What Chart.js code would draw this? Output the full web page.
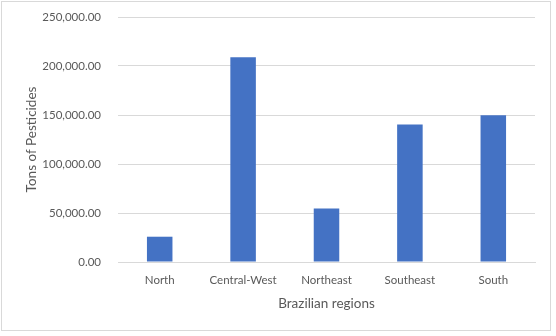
<!DOCTYPE html>
<html>
<head>
<meta charset="utf-8">
<script src="https://cdn.jsdelivr.net/npm/chart.js@4/dist/chart.umd.min.js"></script>
<style>
  html, body { margin: 0; padding: 0; background: #ffffff; }
  canvas { display: block; }
</style>
</head>
<body>
<canvas id="grafica" width="556" height="336"></canvas>
<script>
// datos
const regiones = ["North", "Central-West", "Northeast", "Southeast", "South"];
const toneladas = [25800, 208900, 54600, 140200, 149800];
const ticksY = [0, 50000, 100000, 150000, 200000, 250000];

const textoGris = "#595959";
const lineaGris = "#d9d9d9";
const fuente = { family: "Lato, 'Open Sans', sans-serif", size: 11.5 };
const fuenteTitulo = { family: "Lato, 'Open Sans', sans-serif", size: 13.5 };

// marco exterior del grafico
const marco = {
    id: "marco",
    beforeDraw(chart) {
        const ctx = chart.ctx;
        ctx.save();
        ctx.fillStyle = "#ffffff";
        ctx.fillRect(0, 0, chart.width, chart.height);
        ctx.strokeStyle = lineaGris;
        ctx.lineWidth = 1;
        ctx.strokeRect(1.5, 1.5, 549, 329);
        ctx.restore();
    }
};

new Chart(document.getElementById("grafica").getContext("2d"), {
    type: "bar",
    data: {
        labels: regiones,
        datasets: [{
            label: "Tons of Pesticides",
            data: toneladas,
            backgroundColor: "#4472c4",
            borderWidth: 0,
            barPercentage: 1,
            categoryPercentage: 0.306
        }]
    },
    options: {
        responsive: false,
        animation: false,
        devicePixelRatio: 1,
        layout: { padding: { top: 17, right: 21, bottom: 0, left: 0 } },
        plugins: {
            legend: { display: false },
            tooltip: { enabled: false }
        },
        scales: {
            x: {
                grid: { display: false, drawTicks: false },
                border: { display: true, color: lineaGris, width: 1 },
                ticks: { color: textoGris, font: fuente, padding: 11 },
                title: {
                    display: true,
                    text: "Brazilian regions",
                    color: textoGris,
                    font: fuenteTitulo,
                    padding: { top: 0, bottom: 24 }
                },
                afterFit(scale) { scale.height = 74; }
            },
            y: {
                min: 0,
                max: 250000,
                afterBuildTicks(scale) {
                    scale.ticks = ticksY.map(v => ({ value: v }));
                },
                grid: { color: lineaGris, drawTicks: false },
                border: { display: false },
                ticks: {
                    color: textoGris,
                    font: fuente,
                    padding: 17,
                    callback: v => v.toLocaleString("en-US", { minimumFractionDigits: 2, maximumFractionDigits: 2 })
                },
                title: {
                    display: true,
                    text: "Tons of Pesticides",
                    color: textoGris,
                    font: fuenteTitulo,
                    padding: { top: 24, bottom: 0 }
                },
                afterFit(scale) {
                    scale.width = 118;
                    scale.paddingTop = 0;
                    scale.paddingBottom = 0;
                }
            }
        }
    },
    plugins: [marco]
});
</script>
</body>
</html>
